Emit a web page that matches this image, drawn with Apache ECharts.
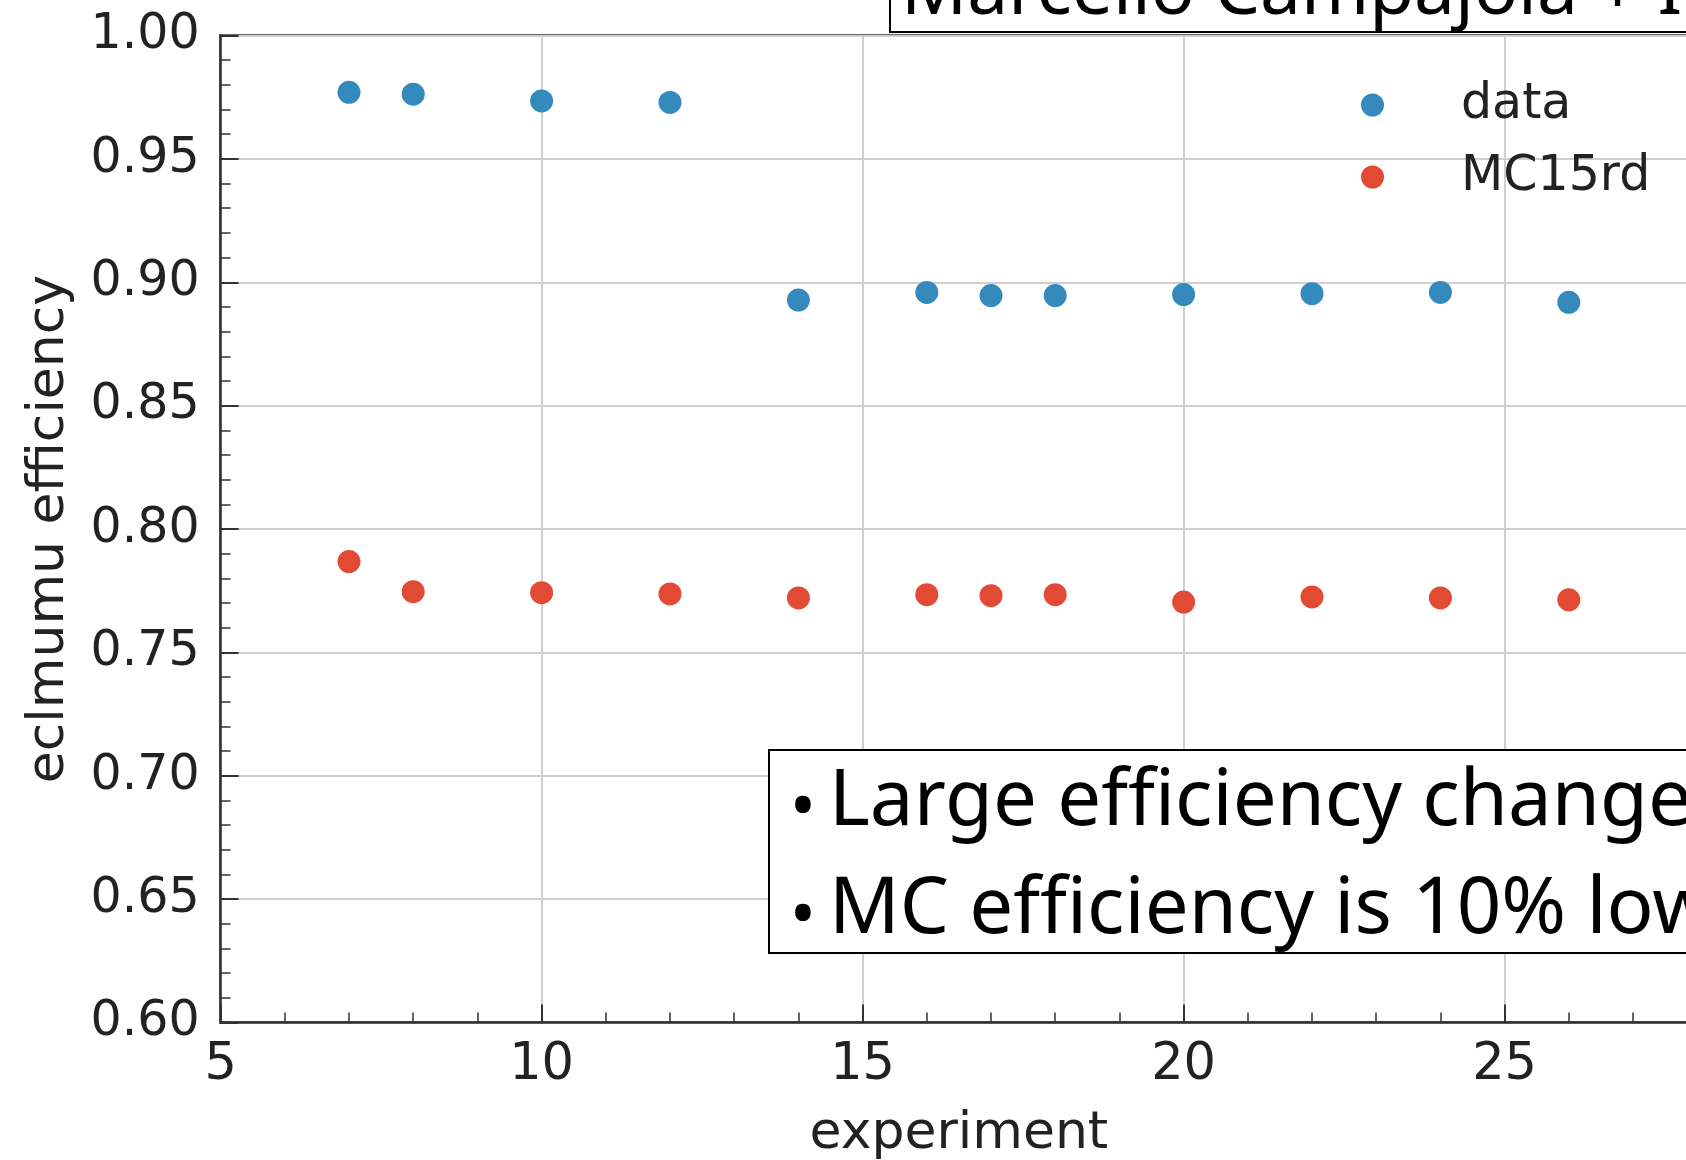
<!DOCTYPE html>
<html><head><meta charset="utf-8">
<script src="https://cdn.jsdelivr.net/npm/echarts@6/dist/echarts.min.js"></script>
<style>html,body{margin:0;padding:0;background:#fff;overflow:hidden}#c{width:1686px;height:1160px}</style>
</head><body><div id="c"></div>
<script>
// ---- data ----
const experiments = [7, 8, 10, 12, 14, 16, 17, 18, 20, 22, 24, 26];
const dataEff = [0.9770, 0.9762, 0.9735, 0.9729, 0.8928, 0.8959, 0.8946, 0.8946, 0.8950, 0.8954, 0.8959, 0.8919];
const mcEff   = [0.7868, 0.7746, 0.7742, 0.7737, 0.7721, 0.7734, 0.7730, 0.7734, 0.7704, 0.7725, 0.7721, 0.7713];
const seriesNames = ['data', 'MC15rd'];
const xTicks = [5, 10, 15, 20, 25];
const yTicks = [0.60, 0.65, 0.70, 0.75, 0.80, 0.85, 0.90, 0.95, 1.00];
const xTitle = 'experiment';
const yTitle = 'eclmumu efficiency';
const headerText = 'Marcello Campajola + I';
const noteLines = ['Large efficiency change', 'MC efficiency is 10% lower'];

// ---- chart ----
const F = '"DejaVu Sans", sans-serif';
const BF = '"Noto Sans", "Liberation Sans", sans-serif';
const chart = echarts.init(document.getElementById('c'), null, {renderer: 'canvas'});
const pair = (xs, ys) => xs.map((x, i) => [x, ys[i]]);

const option = {
  animation: false,
  backgroundColor: '#ffffff',
  grid: {left: 220.6, top: 35.5, width: 1476.6, height: 987.1, show: true,
         containLabel: false, outerBoundsMode: 'none',
         borderColor: '#333', borderWidth: 2.5, backgroundColor: 'transparent'},
  legend: {
    orient: 'vertical', left: 1356, top: 75, itemWidth: 23, itemHeight: 23, itemGap: 22,
    icon: 'circle', data: seriesNames,
    textStyle: {fontFamily: F, fontSize: 49, color: '#222', lineHeight: 50, padding: [0, 0, 0, 72]}
  },
  xAxis: {
    type: 'value', min: 5, max: 28, interval: 5,
    name: xTitle, nameLocation: 'middle', nameGap: 86,
    nameTextStyle: {fontFamily: F, fontSize: 52, color: '#222'},
    axisLine: {show: true, onZero: false, lineStyle: {color: '#333', width: 2.5}},
    axisTick: {show: true, inside: true, length: 18, lineStyle: {color: '#333', width: 2}},
    minorTick: {show: true, splitNumber: 5, length: 10, lineStyle: {color: '#333', width: 1.5}},
    splitLine: {show: true, lineStyle: {color: '#cfcfcf', width: 2}},
    axisLabel: {fontFamily: F, fontSize: 51, color: '#222', margin: 18, showMaxLabel: false,
      formatter: v => xTicks.includes(v) ? String(v) : ''}
  },
  yAxis: {
    type: 'value', min: 0.6, max: 1.0, interval: 0.05,
    name: yTitle, nameLocation: 'middle', nameGap: 145,
    nameTextStyle: {fontFamily: F, fontSize: 52, color: '#222'},
    axisLine: {show: true, onZero: false, lineStyle: {color: '#333', width: 2.5}},
    axisTick: {show: true, inside: true, length: 18, lineStyle: {color: '#333', width: 2}},
    minorTick: {show: true, splitNumber: 5, length: 10, lineStyle: {color: '#333', width: 1.5}},
    splitLine: {show: true, lineStyle: {color: '#cfcfcf', width: 2}},
    axisLabel: {fontFamily: F, fontSize: 49, color: '#222', margin: 21,
      formatter: v => {
        const t = yTicks.find(k => Math.abs(k - v) < 1e-6);
        return t === undefined ? '' : t.toFixed(2);
      }}
  },
  series: [
    {name: seriesNames[0], type: 'scatter', symbol: 'circle', symbolSize: 23, z: 5,
     itemStyle: {color: '#348ABD', opacity: 1}, data: pair(experiments, dataEff)},
    {name: seriesNames[1], type: 'scatter', symbol: 'circle', symbolSize: 23, z: 5,
     itemStyle: {color: '#E24A33', opacity: 1}, data: pair(experiments, mcEff)}
  ],
  graphic: [
    {type: 'rect', z: 100, shape: {x: 890, y: -60, width: 900, height: 92},
     style: {fill: '#fff', stroke: '#000', lineWidth: 2}},
    {type: 'text', z: 101, style: {text: headerText, x: 901, y: -7, font: '73px ' + BF,
     fill: '#000', align: 'left', verticalAlign: 'middle'}},
    {type: 'rect', z: 100, shape: {x: 769, y: 750, width: 1000, height: 203},
     style: {fill: '#fff', stroke: '#000', lineWidth: 2}},
    {type: 'text', z: 101, style: {text: '\u2022', x: 803, y: 810, font: '70px ' + BF,
     fill: '#000', align: 'center', verticalAlign: 'middle'}},
    {type: 'text', z: 101, style: {text: noteLines[0], x: 829, y: 803, font: '78px ' + BF,
     fill: '#000', align: 'left', verticalAlign: 'middle'}},
    {type: 'text', z: 101, style: {text: '\u2022', x: 803, y: 918, font: '70px ' + BF,
     fill: '#000', align: 'center', verticalAlign: 'middle'}},
    {type: 'text', z: 101, style: {text: noteLines[1], x: 829, y: 911, font: '78px ' + BF,
     fill: '#000', align: 'left', verticalAlign: 'middle'}}
  ]
};
chart.setOption(option);
</script>
</body></html>
